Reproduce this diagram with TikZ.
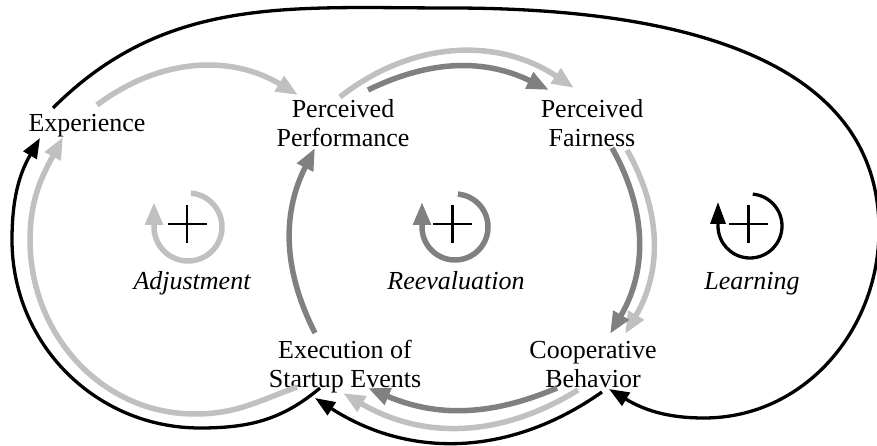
\documentclass[tikz,border=0pt]{standalone}
\usepackage{fontspec}
\setmainfont{Liberation Serif}
\usetikzlibrary{arrows.meta,calc}
\definecolor{lgray}{RGB}{192,192,192}
\definecolor{mgray}{RGB}{128,128,128}
\begin{document}
\begin{tikzpicture}[x=1pt,y=1pt,
  var/.style={inner sep=0pt, anchor=base, font=\fontsize{26}{28.5}\selectfont},
  lbl/.style={inner sep=0pt, anchor=base, font=\fontsize{26}{28.5}\selectfont\itshape},
  lg/.style={draw=lgray, line width=5.5pt, -{Triangle[length=22pt,width=17pt]}},
  mg/.style={draw=mgray, line width=5.5pt, -{Triangle[length=22pt,width=17pt]}},
  bk/.style={draw=black, line width=3.3pt, -{Triangle[length=20pt,width=15pt]}},
  lpg/.style={line width=5.5pt, -{Triangle[length=23pt,width=17pt]}},
  lpk/.style={line width=3.3pt, -{Triangle[length=22pt,width=15pt]}},
  plus/.style={draw=black, line width=2.4pt}]
\useasboundingbox (0,0) rectangle (877,446);

% variables
\node[var] (exp) at (87,314) {Experience};
\node[var] (pp) at (343,328) {\begin{tabular}[t]{@{}c@{}}Perceived\\Performance\end{tabular}};
\node[var] (pf) at (592,328) {\begin{tabular}[t]{@{}c@{}}Perceived\\Fairness\end{tabular}};
\node[var] (ex) at (345,87) {\begin{tabular}[t]{@{}c@{}}Execution of\\Startup Events\end{tabular}};
\node[var] (cb) at (593,87) {\begin{tabular}[t]{@{}c@{}}Cooperative\\Behavior\end{tabular}};

% loop labels
\node[lbl] (adj) at (192,156) {Adjustment};
\node[lbl] (reev) at (456,156) {Reevaluation};
\node[lbl] (lrn) at (752,156) {Learning};

% loop symbols
\draw[lpg, draw=lgray] (188,219) ++(85:34) arc[start angle=85, end angle=-180, radius=34] -- ++(0,25);
\draw[plus] (167.5,222) -- (206.5,222) (187,203) -- (187,241);
\draw[lpg, draw=mgray] (455,219) ++(85:33) arc[start angle=85, end angle=-180, radius=33] -- ++(0,25);
\draw[plus] (433,222) -- (472,222) (452.5,203) -- (452.5,241);
\draw[lpk, draw=black] (750,220) ++(85:32) arc[start angle=85, end angle=-180, radius=32] -- ++(0,24);
\draw[plus] (729,222) -- (768,222) (748.5,203) -- (748.5,241);

% light gray loop
\draw[lg] ($(exp.base)+(10,27)$) to[bend left=34] ($(pp.base)+(-45,23)$);
\draw[lg] ($(pp.base)+(-3,21)$) to[bend left=36] ($(pf.base)+(-18,30)$);
\draw[lg] ($(pf.base)+(35,-32)$) to[bend left=30] ($(cb.base)+(32,25)$);
\draw[lg] ($(cb.base)+(-15,-31)$) to[bend left=31] ($(ex.base)+(-2,-34)$);
\draw[lg] ($(ex.base)+(-48,-28)$) to[out=200,in=0] (195,32) to[out=180,in=-90] (30,206) to[out=90,in=242] ($(exp.base)+(-24,-5)$);

% mid gray loop
\draw[mg] ($(pp.base)+(25,28)$) to[bend left=26] ($(pf.base)+(-43,28)$);
\draw[mg] ($(pf.base)+(20,-30)$) to[bend left=30] ($(cb.base)+(17,25)$);
\draw[mg] ($(cb.base)+(-36,-29)$) to[bend left=23] ($(ex.base)+(23,-29)$);
\draw[mg] ($(ex.base)+(-30,26)$) to[bend left=27] ($(pp.base)+(-28,-30)$);

% black loop
\draw[bk] ($(exp.base)+(-34,24)$) to[out=45,in=180] (450,438) to[out=0,in=90] (879,216) to[out=-90,in=0] (704,28) to[out=180,in=-31] ($(cb.base)+(16,-30)$);
\draw[bk] ($(cb.base)+(9,-33)$) to[bend left=34] ($(ex.base)+(-30,-39)$);
\draw[bk] ($(ex.base)+(-25,-29)$) to[out=220,in=0] (200,18) to[out=180,in=-90] (12,206) to[out=90,in=240] ($(exp.base)+(-47,-6)$);
\end{tikzpicture}
\end{document}
